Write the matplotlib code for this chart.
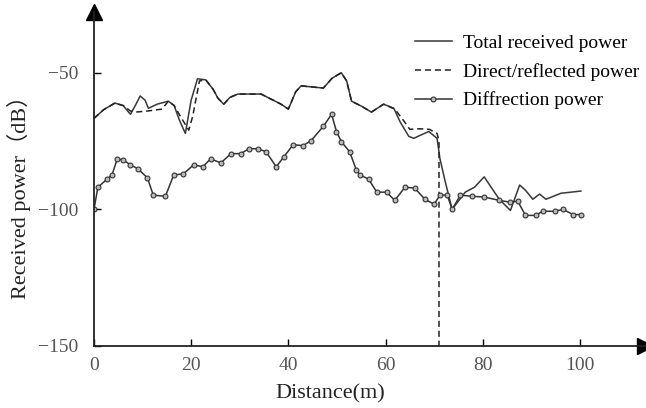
import matplotlib.pyplot as plt

# Total received power (solid)
total_x = [0, 2, 4.3, 6, 7.5, 8.5, 9.5, 10.5, 11.2, 13, 15.3, 16.5, 17.5, 18.8, 20,
           21.3, 23, 24.5, 25.5, 26.7, 28, 29.6, 34.4, 38.5, 40, 41.5, 42.6, 47.2, 49,
           50.9, 52, 53, 55, 57.1, 59.6, 61.7, 63, 64.8, 65.8, 67, 68.9, 70.6, 71.2,
           72.3, 73.7, 76.4, 78.3, 80.3, 83.4, 85.7, 87.6, 88.8, 90.3, 91.7, 93, 96.1,
           100.2]
total_y = [-66.7, -63.5, -61.1, -62, -65.2, -62, -58.5, -60, -63, -61.5, -60.4, -62,
           -67, -72.2, -60, -52.2, -52.6, -56, -59.3, -61.5, -59, -57.8, -57.8, -61.5,
           -63.3, -57, -54.8, -55.6, -52, -50, -53, -60.4, -62.2, -64.4, -61.5, -63, -68,
           -73.3, -74, -73, -71.5, -74, -81.5, -90, -100, -93.7, -91.9, -88.1, -96.3,
           -100.4, -91.1, -93, -96.3, -94.4, -96.3, -94.1, -93.3]

# Direct/reflected power (dashed)
direct_x = [0, 2, 4.3, 6, 7.5, 8.5, 11, 14, 15.3, 16.5, 17.8, 19.5, 20.3, 21.7, 23,
            24.5, 25.5, 26.7, 28, 29.6, 34.4, 38.5, 40, 41.5, 42.6, 47.2, 49, 50.9, 52,
            53, 55, 57.1, 59.6, 61.9, 63.5, 65, 67, 69, 70.6, 71, 71]
direct_y = [-66.7, -63.5, -61.1, -62, -64, -64.4, -64, -63.3, -60.4, -62, -66, -71,
            -66, -53, -52.6, -56, -59.3, -61.5, -59, -57.8, -57.8, -61.5, -63.3, -57,
            -54.8, -55.6, -52, -50, -53, -60.4, -62.2, -64.4, -61.5, -63.3, -67, -70.7,
            -70.5, -70.7, -72.2, -75, -150]

# Diffraction power (circles)
diff_x = [0, 0.8, 2.7, 3.7, 4.8, 6, 7.5, 9.1, 11, 12.2, 14.7, 16.4, 18.4, 20.5, 22.4,
          24, 26.1, 28.2, 30.2, 31.9, 33.7, 35.4, 37.5, 39.1, 41, 43, 44.7, 47.2, 48.9,
          49.9, 50.9, 52.6, 54, 54.7, 56.5, 58.2, 60.2, 61.9, 64, 66, 68.1, 70, 71.2,
          72.7, 73.7, 75.4, 77.8, 80.3, 83.4, 85.7, 87.2, 88.8, 90.9, 92.3, 94.8, 96.5,
          98.6, 100.2]
diff_y = [-100, -91.9, -88.9, -87.4, -81.5, -81.9, -83.7, -85.2, -88.5, -94.8, -95.2,
          -87.4, -87, -83.7, -84.4, -81.5, -83, -79.6, -79.6, -77.8, -77.8, -78.9, -84.4,
          -80.7, -76.3, -76.7, -74.8, -69.6, -65.2, -71.5, -75.2, -78.9, -85.6, -87.4,
          -88.9, -93.7, -93.7, -96.7, -91.9, -92.2, -96.3, -98.1, -94.8, -94.8, -100,
          -94.8, -95.2, -95.5, -96.7, -97.4, -97, -102.2, -102.2, -100.7, -100.7, -100,
          -101.9, -101.9]

plt.rcParams['font.family'] = ['Liberation Serif', 'Noto Sans CJK SC']

fig = plt.figure(figsize=(6.46, 4.08), dpi=100)
ax = fig.add_axes([0.1455, 0.152, 0.853, 0.819])

ax.plot(total_x, total_y, color='#383838', lw=1.1, label='Total received power')
ax.plot(direct_x, direct_y, color='#222222', lw=1.1, ls=(0, (4, 2.5)),
        label='Direct/reflected power')
ax.plot(diff_x, diff_y, color='#333333', lw=1.1, marker='o', ms=3.5,
        mfc='#bbbbbb', mec='#333333', mew=0.8, label='Diffrection power')

ax.set_xlim(0, 113.4)
ax.set_ylim(-150, -27.7)
ax.set_xticks([0, 20, 40, 60, 80, 100])
ax.set_yticks([-150, -100, -50])
ax.set_yticklabels(['\u2212150', '\u2212100', '\u221250'])

for s in ['top', 'right']:
    ax.spines[s].set_visible(False)
for s in ['left', 'bottom']:
    ax.spines[s].set_linewidth(1.3)
    ax.spines[s].set_color('#222222')

# arrow heads on the axes
ax.plot(1, 0, '>', color='black', ms=11, transform=ax.transAxes, clip_on=False)
ax.plot(0, 1, '^', color='black', ms=11, transform=ax.transAxes, clip_on=False)

ax.tick_params(axis='both', direction='in', length=5, width=1, labelsize=14,
               labelcolor='#555555')
ax.tick_params(axis='x', pad=8)
ax.tick_params(axis='y', pad=11)

ax.set_xlabel('Distance(m)', fontsize=16, color='#222222')
ax.set_ylabel('Received power（dB）', fontsize=16, color='#222222')
ax.xaxis.set_label_coords(0.428, -0.115)
ax.yaxis.set_label_coords(-0.115, 0.46)

ax.legend(loc='upper left', bbox_to_anchor=(0.568, 0.955), frameon=False, fontsize=14,
          handlelength=1.9, handletextpad=0.6, labelspacing=0.55, borderaxespad=0)

plt.savefig('out.png', dpi=100)
